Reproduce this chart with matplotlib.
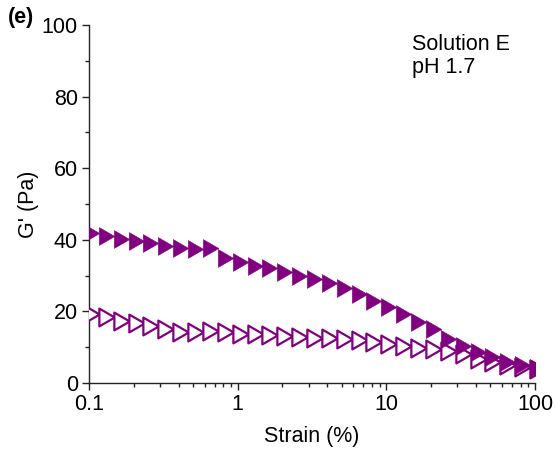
import numpy as np
import matplotlib
matplotlib.use("Agg")
import matplotlib.pyplot as plt
from matplotlib.path import Path
from matplotlib.ticker import LogLocator, MultipleLocator, FixedLocator, FixedFormatter

plt.rcParams['font.family'] = ['Liberation Sans', 'DejaVu Sans']

# Data: strain sweep, 10 points per decade from 0.1 % to 100 %
strain = [0.1, 0.126, 0.158, 0.2, 0.251, 0.316, 0.398, 0.501, 0.631, 0.794,
          1.0, 1.26, 1.58, 2.0, 2.51, 3.16, 3.98, 5.01, 6.31, 7.94,
          10.0, 12.6, 15.8, 20.0, 25.1, 31.6, 39.8, 50.1, 63.1, 79.4, 100.0]
g_filled = [41.9, 41.0, 40.2, 39.7, 39.1, 38.4, 37.7, 37.4, 37.6, 34.8,
            33.7, 32.8, 32.0, 31.1, 30.0, 29.0, 27.8, 26.4, 24.9, 23.0,
            21.1, 19.3, 17.0, 15.1, 12.3, 10.4, 8.6, 7.2, 5.9, 4.9, 4.2]
g_open = [19.3, 18.3, 17.4, 16.7, 16.0, 15.1, 14.3, 14.2, 14.5, 14.2,
          13.7, 13.7, 13.4, 13.2, 12.9, 12.7, 12.5, 12.3, 12.0, 11.5,
          11.0, 10.4, 9.9, 9.5, 9.0, 8.1, 6.8, 5.8, 5.0, 4.5, 4.0]
xticks = [0.1, 1, 10, 100]
xticklabels = ['0.1', '1', '10', '100']
yticks = [0, 20, 40, 60, 80, 100]

purple = '#800080'
FS = 15.5
MS = 14.8

# right-pointing equilateral triangle centred at its centroid
a = 0.57735
tri = Path([(-a, 1.0), (-a, -1.0), (2 * a, 0.0), (-a, 1.0)],
           [Path.MOVETO, Path.LINETO, Path.LINETO, Path.CLOSEPOLY])

fig = plt.figure(figsize=(5.55, 4.54), dpi=100)
ax = fig.add_axes([0.1604, 0.1564, 0.8036, 0.7885])

ax.plot(strain, g_open, linestyle='none', marker=tri, markersize=MS,
        markerfacecolor='white', markeredgecolor=purple, markeredgewidth=1.6,
        zorder=3)
ax.plot(strain, g_filled, linestyle='none', marker=tri, markersize=MS,
        markerfacecolor=purple, markeredgecolor=purple, markeredgewidth=0.4,
        zorder=4)

ax.set_xscale('log')
ax.set_xlim(0.1, 100)
ax.set_ylim(0, 100)
ax.xaxis.set_major_locator(FixedLocator(xticks))
ax.xaxis.set_major_formatter(FixedFormatter(xticklabels))
ax.xaxis.set_minor_locator(LogLocator(base=10, subs=np.arange(2, 10)))
ax.yaxis.set_major_locator(FixedLocator(yticks))
ax.yaxis.set_minor_locator(MultipleLocator(10))

for s in ['top', 'right']:
    ax.spines[s].set_visible(False)
for s in ['left', 'bottom']:
    ax.spines[s].set_linewidth(1.0)
    ax.spines[s].set_color('#222222')

ax.tick_params(which='major', direction='out', length=5, width=1.0,
               labelsize=FS, color='#222222', pad=3)
ax.tick_params(which='minor', direction='out', length=3, width=1.0,
               color='#222222')

ax.set_xlabel('Strain (%)', fontsize=FS, labelpad=8)
ax.set_ylabel("G' (Pa)", fontsize=FS, labelpad=2)

ax.text(0.724, 0.975, 'Solution E\npH 1.7', transform=ax.transAxes,
        fontsize=FS, va='top', ha='left', linespacing=1.15)
fig.text(0.014, 0.985, '(e)', fontsize=FS, fontweight='bold',
         va='top', ha='left')

fig.savefig('out.png', dpi=100)
